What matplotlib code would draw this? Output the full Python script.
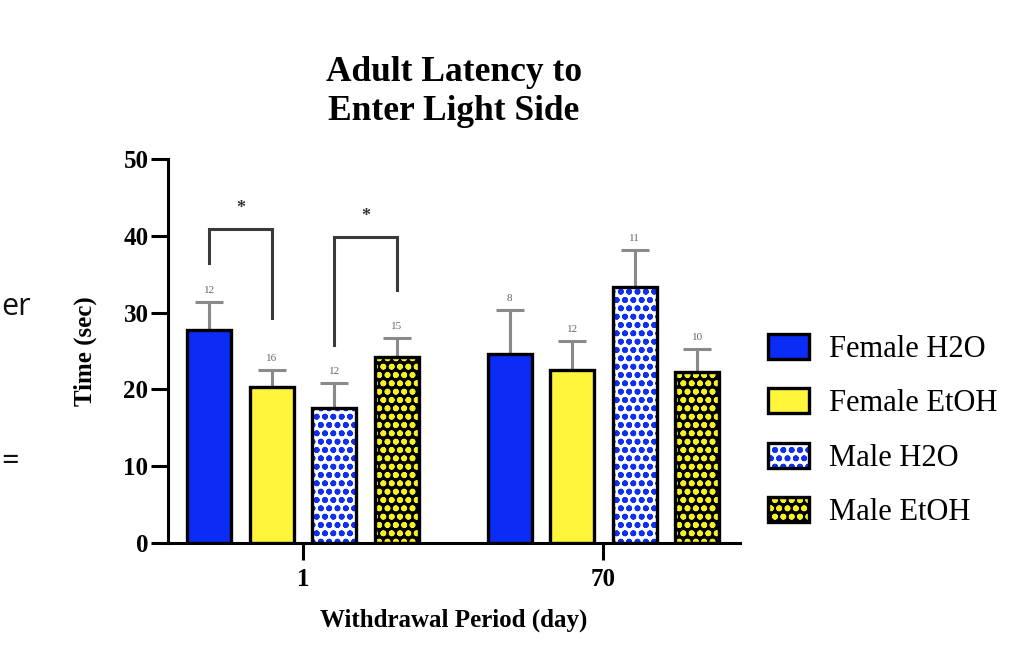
import matplotlib
matplotlib.use("Agg")
import matplotlib.pyplot as plt
import numpy as np

groups = ["1", "70"]
series = ["Female H2O", "Female EtOH", "Male H2O", "Male EtOH"]
means = {
    "Female H2O": [27.7, 24.6],
    "Female EtOH": [20.3, 22.5],
    "Male H2O": [17.6, 33.3],
    "Male EtOH": [24.2, 22.3],
}
sems = {
    "Female H2O": [3.7, 5.7],
    "Female EtOH": [2.2, 3.8],
    "Male H2O": [3.2, 4.9],
    "Male EtOH": [2.5, 3.0],
}
ns = {
    "Female H2O": [12, 8],
    "Female EtOH": [16, 12],
    "Male H2O": [12, 11],
    "Male EtOH": [15, 10],
}
# significance brackets: (group, series_a, series_b, top, leg_a_bottom, leg_b_bottom)
brackets = [
    (0, "Female H2O", "Female EtOH", 40.9, 36.5, 29.3),
    (0, "Male H2O", "Male EtOH", 39.8, 25.8, 32.9),
]

styles = {
    "Female H2O": dict(face="#0a2cf5", hatch=None, hcol=None),
    "Female EtOH": dict(face="#fff53a", hatch=None, hcol=None),
    "Male H2O": dict(face="white", hatch="oo", hcol="#1030f0"),
    "Male EtOH": dict(face="black", hatch="oo", hcol="#f5f020"),
}

plt.rcParams["hatch.linewidth"] = 1.8
serif = ["Liberation Serif", "DejaVu Serif"]

fig = plt.figure(figsize=(10.24, 6.72), dpi=100)
ax = fig.add_axes([0.164, 0.192, 0.5587, 0.5714])

x = np.arange(len(groups))
width = 0.147
step = 0.208
handles = []
centers = {}
for i, s in enumerate(series):
    pos = x + (i - 1.5) * step
    centers[s] = pos
    st = styles[s]
    if st["hatch"]:
        b1 = ax.bar(pos, means[s], width, color=st["face"], edgecolor=st["hcol"],
                    hatch=st["hatch"], linewidth=0, zorder=2)
        b2 = ax.bar(pos, means[s], width, facecolor="none", edgecolor="black",
                    linewidth=2.4, zorder=3)
        handles.append((b1.patches[0], b2.patches[0]))
    else:
        b = ax.bar(pos, means[s], width, color=st["face"], edgecolor="black",
                   linewidth=2.4, zorder=3)
        handles.append(b.patches[0])
    ax.errorbar(pos, means[s], yerr=[np.zeros(len(pos)), sems[s]], fmt="none",
                ecolor="#8a8a8a", elinewidth=2.2, capsize=10, capthick=2.2, zorder=1)
    for p, m, e, n in zip(pos, means[s], sems[s], ns[s]):
        ax.text(p, m + e + 0.9, str(n), ha="center", va="bottom", fontsize=8,
                color="#666666", family=serif)

for g, a, b, top, ya, yb in brackets:
    xa = centers[a][g]
    xb = centers[b][g]
    ax.plot([xa, xa, xb, xb], [ya, top, top, yb], color="#3a3a3a", lw=2.2,
            solid_joinstyle="miter", zorder=4)
    ax.text((xa + xb) / 2, top + 1.6, "*", ha="center", va="bottom", fontsize=13,
            color="#333333", family=serif, fontweight="bold")

ax.set_xlim(-0.45, 1.455)
ax.set_ylim(0, 50)
ax.set_yticks([0, 10, 20, 30, 40, 50])
ax.set_xticks(x)
ax.set_xticklabels(groups)
for sp in ["top", "right"]:
    ax.spines[sp].set_visible(False)
for sp in ["left", "bottom"]:
    ax.spines[sp].set_linewidth(2.2)
ax.tick_params(axis="both", width=2.2, length=12, direction="out")
ax.tick_params(axis="y", pad=2)
ax.tick_params(axis="x", pad=6)
for lbl in ax.get_xticklabels() + ax.get_yticklabels():
    lbl.set_family(serif)
    lbl.set_fontweight("bold")
    lbl.set_fontsize(18)
ax.set_ylabel("Time (sec)", family=serif, fontweight="bold", fontsize=18, labelpad=19)
ax.set_xlabel("Withdrawal Period (day)", family=serif, fontweight="bold", fontsize=18,
              labelpad=13)
ax.set_title("Adult Latency to\nEnter Light Side", family=serif, fontweight="bold",
             fontsize=25.5, pad=28, linespacing=1.25)

leg = ax.legend(handles, series, loc="center left", bbox_to_anchor=(1.0, 0.293),
                frameon=False, prop={"family": serif, "size": 22},
                handlelength=1.37, handleheight=0.88, labelspacing=0.8,
                handletextpad=0.65)

fig.text(1 / 1024, 0.543, "er", fontsize=22, family=["Open Sans", "DejaVu Sans"],
         ha="left", va="center", color="#111111")
fig.text(1 / 1024, 0.3125, "=", fontsize=22, family=["Open Sans", "DejaVu Sans"],
         ha="left", va="center", color="#111111")

fig.savefig("out.png", dpi=100)
